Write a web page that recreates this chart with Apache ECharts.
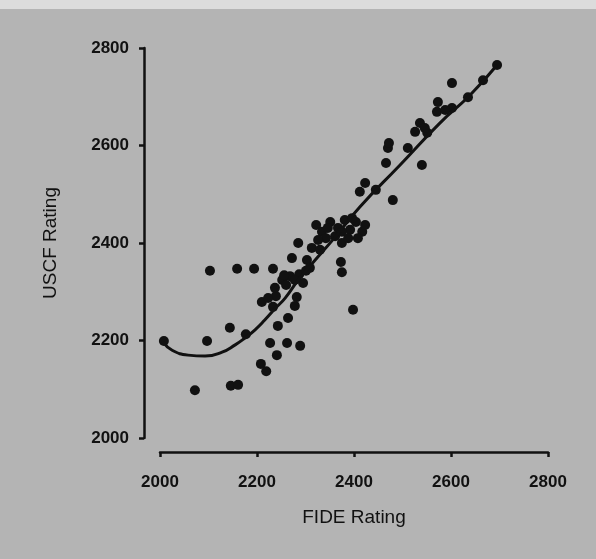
<!DOCTYPE html>
<html>
<head>
<meta charset="utf-8">
<script src="https://cdn.jsdelivr.net/npm/echarts@6/dist/echarts.min.js"></script>
<style>
  html, body { margin: 0; padding: 0; background: #b4b4b4; }
  #chart { width: 596px; height: 559px; }
</style>
</head>
<body>
<div id="chart"></div>
<script>
// players: FIDE rating vs USCF rating
const fide = [
  2008, 2072, 2097, 2103, 2159, 2194, 2233, 2144, 2146, 2161,
  2208, 2219, 2241, 2262, 2289, 2227, 2243, 2264, 2210, 2233,
  2282, 2278, 2398, 2373, 2375, 2375, 2285, 2272, 2303, 2252,
  2268, 2287, 2301, 2260, 2295, 2239, 2322, 2334, 2351, 2367,
  2381, 2392, 2404, 2417, 2361, 2342, 2408, 2313, 2330, 2412,
  2423, 2480, 2466, 2540, 2470, 2472, 2526, 2536, 2551, 2573,
  2571, 2602, 2602, 2635, 2695, 2511, 2445, 2177, 2326, 2346,
  2375, 2396, 2423, 2388, 2256, 2278, 2309, 2237, 2223, 2666,
  2546, 2588
];
const uscf = [
  2199, 2098, 2199, 2343, 2347, 2347, 2347, 2226, 2107, 2109,
  2152, 2137, 2170, 2195, 2189, 2195, 2230, 2246, 2279, 2269,
  2289, 2271, 2263, 2361, 2340, 2400, 2400, 2369, 2365, 2324,
  2332, 2336, 2343, 2314, 2318, 2291, 2437, 2423, 2443, 2431,
  2447, 2427, 2443, 2423, 2414, 2410, 2410, 2390, 2386, 2505,
  2523, 2488, 2564, 2560, 2595, 2605, 2628, 2646, 2626, 2689,
  2669, 2677, 2728, 2699, 2765, 2595, 2509, 2213, 2406, 2431,
  2423, 2451, 2437, 2410, 2334, 2324, 2349, 2308, 2287, 2734,
  2636, 2673
];

// smoothed fit
const curveFide = [2006, 2025, 2058, 2093, 2128, 2155, 2175, 2196, 2216, 2237, 2258, 2285, 2320, 2361, 2412, 2495, 2577, 2639, 2695];
const curveUscf = [2197, 2180, 2170, 2168, 2176, 2191, 2205, 2222, 2242, 2265, 2287, 2324, 2365, 2412, 2474, 2560, 2646, 2703, 2765];

const xTicks = [2000, 2200, 2400, 2600, 2800];
const yTicks = [2000, 2200, 2400, 2600, 2800];

const ink = '#111111';
const font = 'Liberation Sans, Arial, sans-serif';

const chart = echarts.init(document.getElementById('chart'));

const axisCommon = {
  type: 'value',
  interval: 200,
  splitLine: { show: false },
  axisLine: { show: true, lineStyle: { color: ink, width: 2.5 } },
  axisTick: { show: true, length: 5, lineStyle: { color: ink, width: 2.5 } },
  nameLocation: 'middle',
  nameTextStyle: { color: ink, fontFamily: font, fontSize: 19 },
};
const tickLabel = {
  color: ink, fontFamily: font, fontSize: 17, fontWeight: 'bold',
  formatter: (v) => String(v),
};

chart.setOption({
  backgroundColor: '#b4b4b4',
  animation: false,
  graphic: [
    { type: 'rect', left: 0, top: 0, shape: { width: 596, height: 9 }, style: { fill: '#dcdcdc' } }
  ],
  grid: { left: 160, right: 48, top: 48, bottom: 121 },
  xAxis: Object.assign({}, axisCommon, {
    min: xTicks[0],
    max: xTicks[xTicks.length - 1],
    offset: 14,
    name: 'FIDE Rating',
    nameGap: 56,
    axisLabel: Object.assign({}, tickLabel, { margin: 22 }),
  }),
  yAxis: Object.assign({}, axisCommon, {
    min: yTicks[0],
    max: yTicks[yTicks.length - 1],
    offset: 16,
    name: 'USCF Rating',
    nameGap: 84,
    axisLabel: Object.assign({}, tickLabel, { margin: 15 }),
  }),
  series: [
    {
      type: 'line',
      data: curveFide.map((x, i) => [x, curveUscf[i]]),
      smooth: true,
      showSymbol: false,
      lineStyle: { color: ink, width: 3 },
    },
    {
      type: 'scatter',
      data: fide.map((x, i) => [x, uscf[i]]),
      symbolSize: 10,
      itemStyle: { color: ink, opacity: 1 },
    },
  ],
});
</script>
</body>
</html>
